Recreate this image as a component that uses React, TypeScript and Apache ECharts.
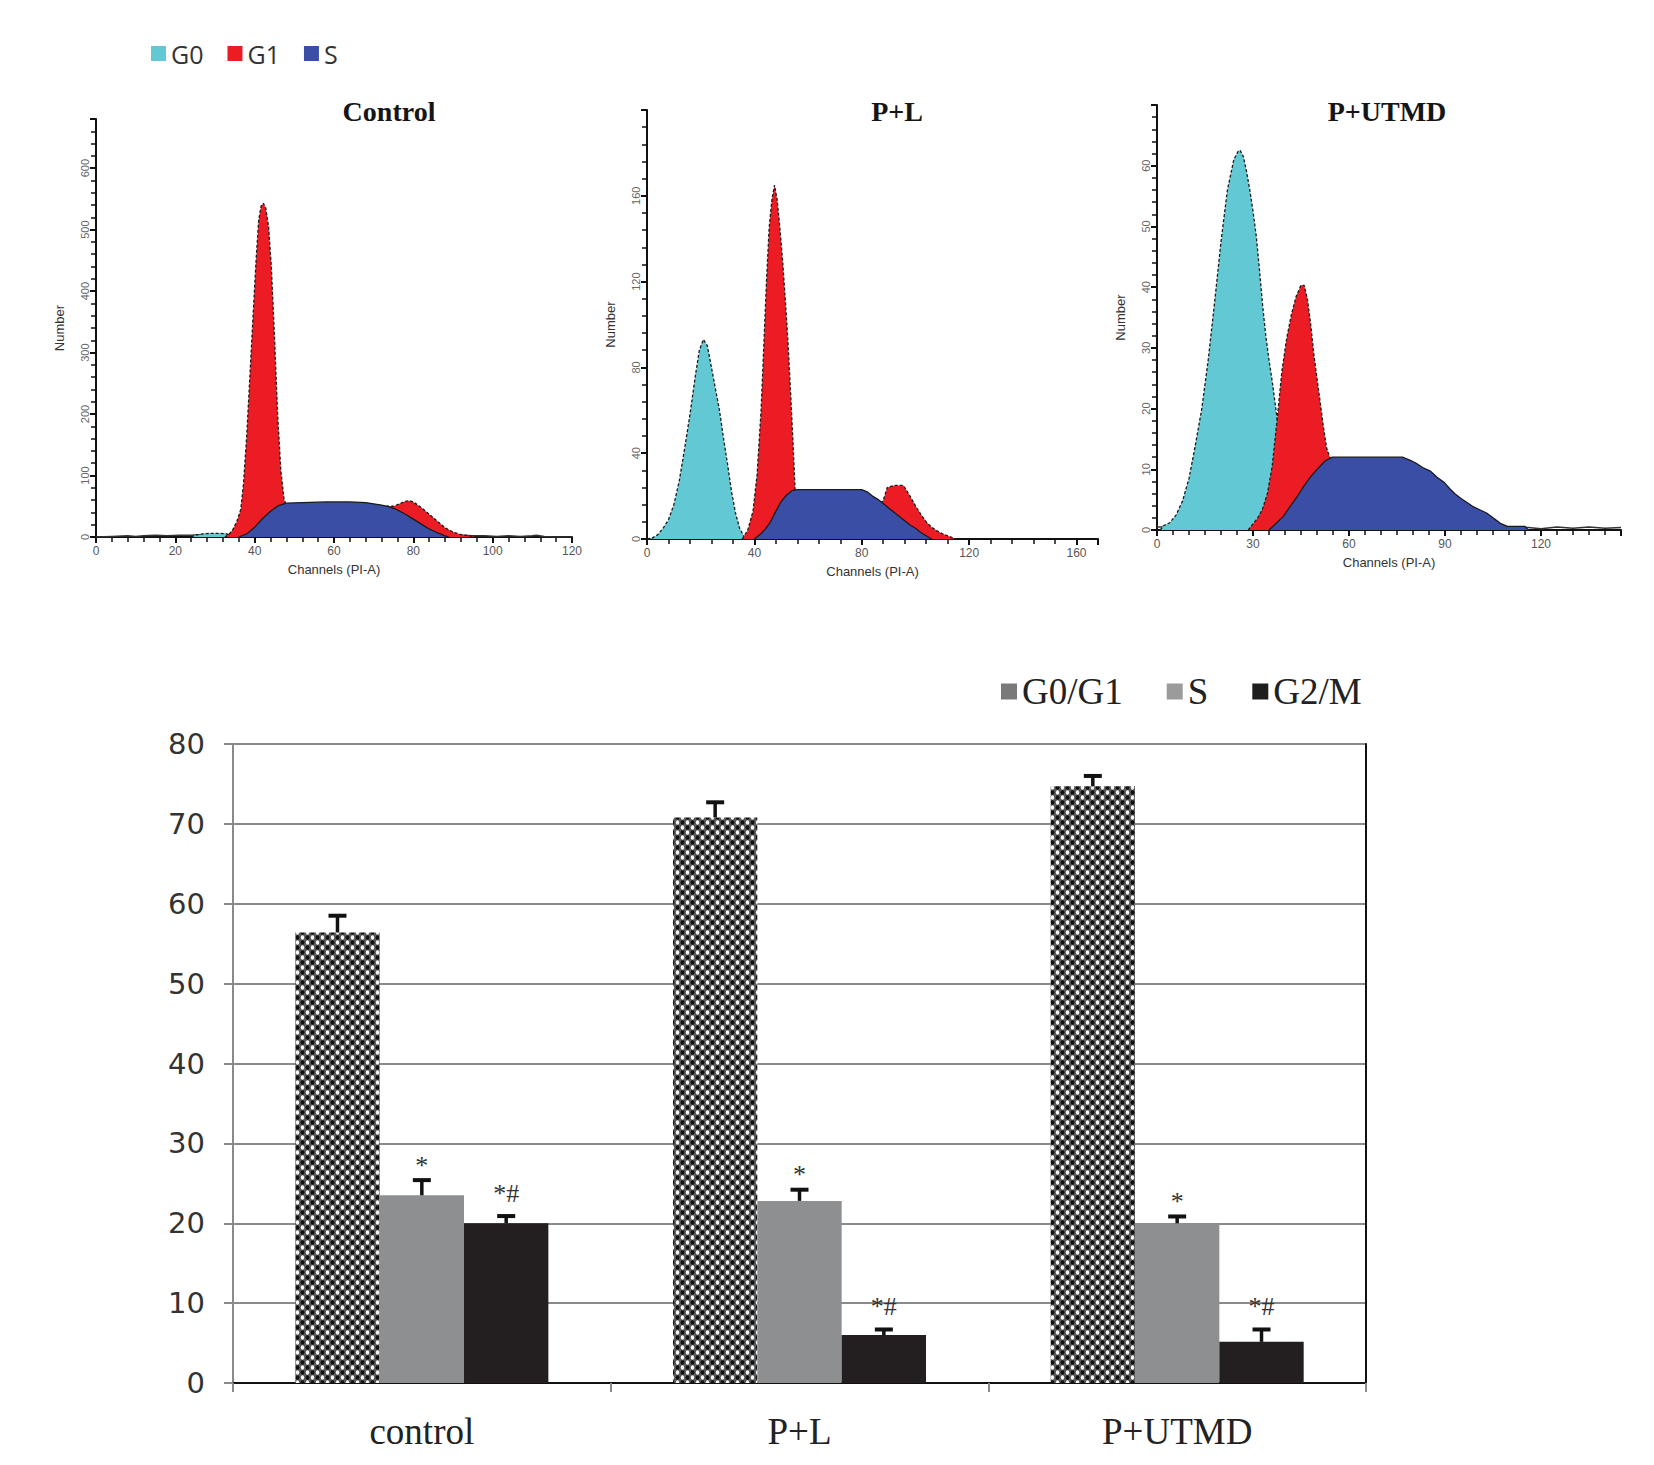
import React, { useEffect, useRef } from 'react';
import * as echarts from 'echarts';

// ---------- Flow cytometry histograms: [channel, count] ----------
const HIST_PHASES = ['G0', 'G1', 'S'];
const HIST_TITLES = ['Control', 'P+L', 'P+UTMD'];

const CTRL_BASE = [[0, 0], [4, 1], [8, 2], [10, 1], [12, 2], [15, 3], [18, 2], [21, 3], [24, 3], [27, 4], [30, 4], [33, 4], [60, 3], [92, 3], [95, 2], [98, 2], [101, 1], [104, 2], [107, 1], [110, 2], [111, 3], [113, 1], [116, 0], [120, 0]];
const CTRL_G0 = [[24, 0], [25, 3], [27, 5], [29, 6], [31, 6], [33, 5], [34, 0]];
const CTRL_G1 = [[32.5, 0], [33.5, 4], [34.5, 12], [35.5, 25], [36.5, 45], [37.2, 88], [38, 165], [38.8, 262], [39.6, 360], [40.4, 455], [41, 515], [41.6, 538], [42.2, 543], [42.8, 535], [43.5, 505], [44.2, 440], [45, 325], [45.8, 198], [46.6, 108], [47.4, 62], [48, 50], [73, 50], [75, 50], [76.5, 54], [78, 58], [79, 59], [80, 57], [82, 48], [84, 37], [86, 26], [88, 15], [90, 8], [92, 4], [94, 2], [96, 0]];
const CTRL_S = [[36, 0], [38, 5], [40, 16], [42, 30], [44, 42], [46, 51], [48, 55], [52, 56], [58, 57], [64, 57], [68, 56], [72, 52], [74, 49], [76, 44], [78, 37], [80, 29], [82, 21], [84, 13], [86, 7], [88, 2], [89, 0]];

const PL_G0 = [[0, 0], [2, 0.5], [4, 2], [6, 5], [8, 9], [10, 16], [12, 27], [14, 42], [16, 58], [18, 76], [19.5, 88], [21, 93], [22.5, 90], [24, 80], [25.5, 70], [27, 60], [28.5, 47], [30, 35], [31.5, 22], [33, 12], [34.5, 5], [36, 1.5], [37, 0]];
const PL_G1 = [[35.5, 0], [37.5, 4], [39.5, 13], [41, 30], [42.5, 60], [43.5, 90], [44.5, 120], [45.5, 145], [46.5, 158], [47.5, 165], [48.5, 158], [49.5, 145], [50.5, 130], [51.5, 112], [52.5, 92], [53.5, 68], [54.5, 42], [55.2, 22], [56, 15], [86, 15], [88, 18], [89.5, 24], [92, 25], [95.5, 25], [97, 22], [98.2, 19.5], [100, 15.5], [102, 11.5], [104, 8], [106, 5.5], [108, 3.8], [110, 2.5], [112, 1.5], [114, 0.5], [115, 0]];
const PL_S = [[40, 0], [42, 2], [44, 4.5], [46, 8], [48, 13], [50, 17.5], [52, 20.5], [54, 22.5], [56, 23], [70, 23], [80, 23], [82, 22], [84, 20], [86, 18.5], [88, 16.5], [90, 14.5], [92, 12.5], [94, 10.5], [96, 8.5], [98, 6.5], [100, 5], [102, 3], [104, 1.5], [106, 0]];

const PU_BASE = [[0, 0.5], [1, 0.5], [60, 0.5], [116, 0.4], [120, 0.2], [125, 0.5], [130, 0.3], [135, 0.5], [140, 0.3], [145, 0.4]];
const PU_G0 = [[1, 0], [2, 0.7], [4, 1.2], [6, 2.5], [8, 4.8], [10, 8.5], [12, 14], [14, 20], [16, 28], [18, 37.5], [20, 47.5], [22, 56], [24, 61], [25.5, 62.5], [26, 62.5], [27, 61.5], [28, 59], [29, 56], [30, 52.5], [31, 48.5], [32, 43], [33, 37], [34, 32], [35, 28], [36, 24.5], [37, 20.5], [38, 16.5], [39, 12.5], [40, 9], [42, 5], [45, 3], [50, 2], [55, 1.4], [60, 0]];
const PU_G1 = [[28.5, 0], [30, 1], [31.5, 2], [33, 3.5], [34.5, 6], [36, 10.5], [37.5, 18], [39, 26], [40.5, 31.5], [42, 35.5], [43.5, 38.5], [45, 40.3], [46, 40.3], [47, 38], [48, 34], [49, 29], [50, 25], [51, 21], [52, 17], [53, 13.5], [54, 12], [56, 9], [58, 0]];
const PU_S = [[35, 0], [37, 1], [39.4, 2.2], [41.5, 3.8], [43.8, 5.5], [46, 7.3], [48.2, 8.9], [50.4, 10.2], [52.6, 11.4], [54.8, 12], [60, 12], [65, 12], [70, 12], [76.7, 12], [79, 11.5], [81, 11], [83, 10.3], [85.4, 9.7], [87.5, 8.7], [89.8, 7.8], [91.5, 6.8], [93, 6], [95, 5.2], [97, 4.5], [98.6, 3.9], [101, 3.3], [103, 2.8], [105, 2], [107.3, 1.1], [109.5, 0.6], [115, 0.6], [116, 0]];

// ---------- Bar chart: percentages per phase ----------
const CATEGORIES = ['control', 'P+L', 'P+UTMD'];
const BAR_NAMES = ['G0/G1', 'S', 'G2/M'];
const G0G1_MEAN = [56.4, 70.8, 74.7];
const S_MEAN = [23.5, 22.8, 20.0];
const G2M_MEAN = [20.0, 6.0, 5.15];
const G0G1_ERR = [2.1, 1.9, 1.3];
const S_ERR = [1.9, 1.4, 0.85];
const G2M_ERR = [0.9, 0.7, 1.55];
const G0G1_NOTE = ['', '', ''];
const S_NOTE = ['*', '*', '*'];
const G2M_NOTE = ['*#', '*#', '*#'];

const CYAN = '#62c8d4';
const RED = '#ec1c24';
const BLUE = '#3b4ea6';
const SANS = '"Liberation Sans", Arial, sans-serif';
const SERIF = '"Liberation Serif", "Times New Roman", serif';

function makePattern() {
  const c = document.createElement('canvas');
  c.width = 10;
  c.height = 10;
  const g = c.getContext('2d')!;
  g.fillStyle = '#5a5a5a';
  g.fillRect(0, 0, 10, 10);
  const dot = (x: number, y: number, rx: number, ry: number, col: string) => {
    g.fillStyle = col;
    g.beginPath();
    g.ellipse(x, y, rx, ry, 0, 0, Math.PI * 2);
    g.fill();
  };
  dot(2.5, 2.5, 1.9, 2.3, '#111111');
  dot(7.5, 7.5, 1.9, 2.3, '#111111');
  dot(7.5, 2.5, 1.7, 2.2, '#f6f6f6');
  dot(2.5, 7.5, 1.7, 2.2, '#f6f6f6');
  return { image: c, repeat: 'repeat', imageWidth: 10, imageHeight: 10 };
}

function histX(gridIndex: number, max: number, interval: number, minorSplit: number, showMax: boolean) {
  return {
    type: 'value', gridIndex, min: 0, max, interval,
    axisLine: { show: true, onZero: false, lineStyle: { color: '#111', width: 2 } },
    axisTick: { show: true, length: 6, lineStyle: { color: '#111', width: 2 } },
    minorTick: { show: true, splitNumber: minorSplit, length: 5, lineStyle: { color: '#111', width: 1.5 } },
    splitLine: { show: false },
    axisLabel: { fontFamily: SANS, fontSize: 12, color: '#555', margin: 8, showMaxLabel: showMax },
    name: 'Channels (PI-A)', nameLocation: 'middle', nameGap: 26,
    nameTextStyle: { fontFamily: SANS, fontSize: 13, color: '#333' },
  };
}

function histY(gridIndex: number, max: number, interval: number, minorSplit: number) {
  return {
    type: 'value', gridIndex, min: 0, max, interval,
    axisLine: { show: true, onZero: false, lineStyle: { color: '#111', width: 2 } },
    axisTick: { show: true, length: 6, lineStyle: { color: '#111', width: 2 } },
    minorTick: { show: true, splitNumber: minorSplit, length: 5, lineStyle: { color: '#111', width: 1.5 } },
    splitLine: { show: false },
    axisLabel: { fontFamily: SANS, fontSize: 11, color: '#666', margin: 6, rotate: 90, showMaxLabel: false },
    name: 'Number', nameLocation: 'middle', nameRotate: 90, nameGap: 30,
    nameTextStyle: { fontFamily: SANS, fontSize: 13, color: '#333' },
  };
}

function area(name: string, data: number[][], color: string, idx: number, z: number, dashed: boolean) {
  return {
    type: 'line', name, xAxisIndex: idx, yAxisIndex: idx, data, z,
    symbol: 'none', showSymbol: false, silent: true,
    itemStyle: { color },
    lineStyle: { color: '#1a1a1a', width: 1.3, type: dashed ? [3, 2] : 'solid' },
    areaStyle: { color, opacity: 1 },
  };
}

function baseLine(data: number[][], idx: number) {
  return {
    type: 'line', name: 'base', xAxisIndex: idx, yAxisIndex: idx, data, z: 1,
    symbol: 'none', showSymbol: false, silent: true,
    lineStyle: { color: '#333', width: 1.5 },
  };
}

function buildOption() {
  const pattern = makePattern();
  const means = [G0G1_MEAN, S_MEAN, G2M_MEAN];
  const errs = [G0G1_ERR, S_ERR, G2M_ERR];
  const notes = [G0G1_NOTE, S_NOTE, G2M_NOTE];
  const errData: number[][] = [];
  means.forEach((arr, k) => arr.forEach((m, ci) => errData.push([ci, m, errs[k][ci], k])));

  const grayAxis = '#8a8a8a';

  return {
    animation: false,
    backgroundColor: '#ffffff',
    grid: [
      { left: 96, top: 119, width: 476, height: 418 },
      { left: 647, top: 110, width: 451, height: 429 },
      { left: 1157, top: 105, width: 464, height: 425 },
      { left: 233, top: 744, width: 1133, height: 639 },
    ],
    legend: [
      {
        data: HIST_PHASES, left: 146, top: 36, icon: 'rect', itemWidth: 15, itemHeight: 15, itemGap: 24,
        selectedMode: false, textStyle: { fontFamily: '"Open Sans", sans-serif', fontSize: 25, color: '#333' },
      },
      {
        data: [
          { name: BAR_NAMES[0], itemStyle: { color: '#7a7a7a' } },
          { name: BAR_NAMES[1], itemStyle: { color: '#9b9b9b' } },
          { name: BAR_NAMES[2], itemStyle: { color: '#1e1e1e' } },
        ],
        left: 996, top: 668, icon: 'rect', itemWidth: 16, itemHeight: 16, itemGap: 44,
        selectedMode: false, textStyle: { fontFamily: SERIF, fontSize: 37, color: '#222' },
      },
    ],
    xAxis: [
      histX(0, 120, 20, 5, true),
      histX(1, 168, 40, 5, false),
      histX(2, 145, 30, 6, false),
      {
        type: 'category', gridIndex: 3, data: CATEGORIES,
        axisLine: { show: true, lineStyle: { color: grayAxis, width: 2 } },
        axisTick: { show: true, length: 9, lineStyle: { color: grayAxis, width: 2 } },
        axisLabel: { fontFamily: SERIF, fontSize: 37, color: '#222', margin: 30 },
      },
      {
        type: 'category', gridIndex: 3, data: CATEGORIES, position: 'top',
        axisLine: { show: true, lineStyle: { color: '#111', width: 2 } },
        axisTick: { show: false }, axisLabel: { show: false },
      },
    ],
    yAxis: [
      histY(0, 680, 100, 5),
      histY(1, 200, 40, 5),
      histY(2, 70, 10, 5),
      {
        type: 'value', gridIndex: 3, min: 0, max: 80, interval: 10,
        axisLine: { show: true, lineStyle: { color: grayAxis, width: 2 } },
        axisTick: { show: true, length: 9, lineStyle: { color: grayAxis, width: 2 } },
        axisLabel: { fontFamily: '"DejaVu Sans", Verdana, sans-serif', fontSize: 29, color: '#333', margin: 28 },
        splitLine: { show: true, lineStyle: { color: grayAxis, width: 2 } },
      },
      {
        type: 'value', gridIndex: 3, min: 0, max: 80, interval: 10, position: 'right',
        axisLine: { show: true, lineStyle: { color: '#111', width: 2 } },
        axisTick: { show: false }, axisLabel: { show: false }, splitLine: { show: false },
      },
    ],
    graphic: HIST_TITLES.map((t, i) => ({
      type: 'text', x: [389, 897, 1387][i], y: 111,
      style: { text: t, font: `bold 28px ${SERIF}`, fill: '#151515', textAlign: 'center', textVerticalAlign: 'middle' },
    })),
    series: [
      // legend providers for the histogram phases
      { type: 'bar', name: HIST_PHASES[0], xAxisIndex: 0, yAxisIndex: 0, data: [], itemStyle: { color: CYAN } },
      { type: 'bar', name: HIST_PHASES[1], xAxisIndex: 0, yAxisIndex: 0, data: [], itemStyle: { color: RED } },
      { type: 'bar', name: HIST_PHASES[2], xAxisIndex: 0, yAxisIndex: 0, data: [], itemStyle: { color: BLUE } },

      baseLine(CTRL_BASE, 0),
      area('G0', CTRL_G0, CYAN, 0, 2, true),
      area('G1', CTRL_G1, RED, 0, 3, true),
      area('S', CTRL_S, BLUE, 0, 4, false),

      area('G0', PL_G0, CYAN, 1, 2, true),
      area('G1', PL_G1, RED, 1, 3, true),
      area('S', PL_S, BLUE, 1, 4, false),

      baseLine(PU_BASE, 2),
      area('G0', PU_G0, CYAN, 2, 2, true),
      area('G1', PU_G1, RED, 2, 3, true),
      area('S', PU_S, BLUE, 2, 4, false),

      {
        type: 'bar', name: BAR_NAMES[0], xAxisIndex: 3, yAxisIndex: 3, data: G0G1_MEAN,
        barGap: '0%', barCategoryGap: '33%', itemStyle: { color: pattern }, z: 3,
      },
      {
        type: 'bar', name: BAR_NAMES[1], xAxisIndex: 3, yAxisIndex: 3, data: S_MEAN,
        barGap: '0%', barCategoryGap: '33%', itemStyle: { color: '#8e8f91' }, z: 3,
      },
      {
        type: 'bar', name: BAR_NAMES[2], xAxisIndex: 3, yAxisIndex: 3, data: G2M_MEAN,
        barGap: '0%', barCategoryGap: '33%', itemStyle: { color: '#231f20' }, z: 3,
      },
      {
        type: 'custom', name: 'error', xAxisIndex: 3, yAxisIndex: 3, data: errData, z: 10, silent: true,
        encode: { x: 0, y: 1 },
        renderItem: (params: any, api: any) => {
          const ci = api.value(0);
          const mean = api.value(1);
          const err = api.value(2);
          const k = api.value(3);
          const center = api.coord([ci, 0])[0];
          const band = api.size([1, 0])[0];
          const bw = (band * (1 - 0.33)) / 3;
          const x = center + (k - 1) * bw;
          const yTop = api.coord([ci, mean])[1];
          const yErr = api.coord([ci, mean + err])[1];
          const children: any[] = [
            { type: 'line', shape: { x1: x, y1: yTop, x2: x, y2: yErr }, style: { stroke: '#111', lineWidth: 3.5 } },
            { type: 'line', shape: { x1: x - 9, y1: yErr, x2: x + 9, y2: yErr }, style: { stroke: '#111', lineWidth: 4 } },
          ];
          const note = notes[k][ci];
          if (note) {
            const lift = note.length > 1 ? 8 : 0;
            children.push({
              type: 'text', x, y: yErr - 2 - lift,
              style: { text: note, font: `26px ${SERIF}`, fill: '#333', textAlign: 'center', textVerticalAlign: 'bottom' },
            });
          }
          return { type: 'group', children };
        },
      },
    ],
  };
}

export default function App() {
  const ref = useRef<HTMLDivElement>(null);
  useEffect(() => {
    document.body.style.margin = '0';
    const chart = echarts.init(ref.current!, null, { renderer: 'svg' });
    chart.setOption(buildOption() as any);
    return () => chart.dispose();
  }, []);
  return <div ref={ref} style={{ width: 1654, height: 1465, background: '#fff' }} />;
}
